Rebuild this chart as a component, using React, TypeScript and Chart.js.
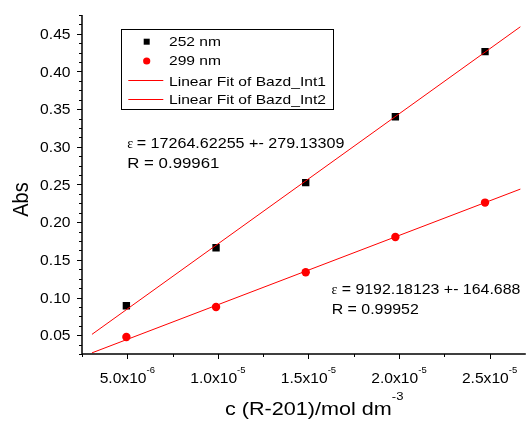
import React, { useEffect, useRef } from "react";
import { Chart, registerables } from "chart.js";

Chart.register(...registerables);

// ---------- data ----------
const concentrations = [4.95e-6, 9.9e-6, 1.485e-5, 1.98e-5, 2.475e-5];
const abs252 = [0.0891, 0.1661, 0.2524, 0.34, 0.4263];
const abs299 = [0.0476, 0.0874, 0.1335, 0.1803, 0.226];

const fitSlope252 = 17264.62255;
const fitIntercept252 = -0.0016;
const fitSlope299 = 9192.18123;
const fitIntercept299 = -0.00154;
const fitRange = [3.05e-6, 2.67e-5];

const seriesLabels = ["252 nm", "299 nm", "Linear Fit of Bazd_Int1", "Linear Fit of Bazd_Int2"];

const yTicks = [0.05, 0.1, 0.15, 0.2, 0.25, 0.3, 0.35, 0.4, 0.45];
const yTickLabels = ["0.05", "0.10", "0.15", "0.20", "0.25", "0.30", "0.35", "0.40", "0.45"];
const xTicks = [5e-6, 1e-5, 1.5e-5, 2e-5, 2.5e-5];
const xTickMantissas = ["5.0x10", "1.0x10", "1.5x10", "2.0x10", "2.5x10"];
const xTickExponents = ["-6", "-5", "-5", "-5", "-5"];
const xMinorTicks = [2.5e-6, 7.5e-6, 1.25e-5, 1.75e-5, 2.25e-5];
const yMinorStep = 0.0125;

const xTitleMain = "c (R-201)/mol dm";
const xTitleSup = "-3";
const yTitle = "Abs";

const fit1Lines = ["= 17264.62255 +- 279.13309", "R = 0.99961"];
const fit2Lines = ["= 9192.18123 +- 164.688", "R = 0.99952"];

// ---------- styling ----------
const SANS = '"Liberation Sans", Arial, sans-serif';
const SERIF = '"Liberation Serif", "Times New Roman", serif';
const RED = "#ff0000";

function drawText(
  ctx: CanvasRenderingContext2D,
  text: string,
  x: number,
  y: number,
  font: string,
  sx: number,
  align: "left" | "center" | "right" = "left"
) {
  ctx.save();
  ctx.font = font;
  ctx.textBaseline = "alphabetic";
  ctx.textAlign = align;
  ctx.translate(x, y);
  ctx.scale(sx, 1);
  ctx.fillStyle = "#000";
  ctx.fillText(text, 0, 0);
  ctx.restore();
}

// main text followed by a raised superscript, drawn in one transformed frame
function drawWithSup(
  ctx: CanvasRenderingContext2D,
  main: string,
  sup: string,
  anchorX: number,
  baseY: number,
  mainFont: string,
  supFont: string,
  supRise: number,
  sx: number,
  center: boolean
) {
  ctx.save();
  ctx.textBaseline = "alphabetic";
  ctx.textAlign = "left";
  ctx.fillStyle = "#000";
  ctx.font = mainFont;
  const wm = ctx.measureText(main).width;
  ctx.font = supFont;
  const ws = ctx.measureText(sup).width;
  const startX = center ? anchorX - ((wm + ws) * sx) / 2 : anchorX;
  ctx.translate(startX, baseY);
  ctx.scale(sx, 1);
  ctx.font = mainFont;
  ctx.fillText(main, 0, 0);
  ctx.font = supFont;
  ctx.fillText(sup, wm, -supRise);
  ctx.restore();
}

const decorPlugin = {
  id: "decor",
  afterDraw(chart: any) {
    const ctx: CanvasRenderingContext2D = chart.ctx;
    const { left, right, top, bottom } = chart.chartArea;
    const xs = chart.scales.x;
    const ys = chart.scales.y;

    ctx.save();
    // axes
    ctx.strokeStyle = "#000";
    ctx.lineWidth = 1.5;
    ctx.beginPath();
    ctx.moveTo(left, top);
    ctx.lineTo(left, bottom);
    ctx.lineTo(right, bottom);
    ctx.stroke();

    // y ticks
    ctx.lineWidth = 1;
    for (let v = ys.min; v <= ys.max + 1e-9; v += yMinorStep) {
      const py = Math.round(ys.getPixelForValue(v)) + 0.5;
      const isMajor = yTicks.some((t) => Math.abs(t - v) < 1e-6);
      ctx.beginPath();
      ctx.moveTo(left, py);
      ctx.lineTo(left - (isMajor ? 5 : 3), py);
      ctx.stroke();
    }
    const fTick = `14px ${SANS}`;
    const sxTick = 1.115;
    yTicks.forEach((v, i) => {
      const py = ys.getPixelForValue(v);
      drawText(ctx, yTickLabels[i], left - 11.5, py + 5, fTick, sxTick, "right");
    });

    // x ticks
    xTicks.forEach((v) => {
      const px = Math.round(xs.getPixelForValue(v)) + 0.5;
      ctx.beginPath();
      ctx.moveTo(px, bottom);
      ctx.lineTo(px, bottom + 5);
      ctx.stroke();
    });
    xMinorTicks.forEach((v) => {
      const px = Math.round(xs.getPixelForValue(v)) + 0.5;
      ctx.beginPath();
      ctx.moveTo(px, bottom);
      ctx.lineTo(px, bottom + 3);
      ctx.stroke();
    });
    xTicks.forEach((v, i) => {
      const px = xs.getPixelForValue(v);
      drawWithSup(ctx, xTickMantissas[i], xTickExponents[i], px, bottom + 28.7,
        fTick, `8.5px ${SANS}`, 9.9, sxTick, true);
    });

    // x axis title
    drawWithSup(ctx, xTitleMain, xTitleSup, 225, 415,
      `19px ${SANS}`, `11.5px ${SANS}`, 15.5, 1.137, false);

    // y axis title
    ctx.save();
    ctx.translate(20, 199.5);
    ctx.scale(1.12, 1);
    ctx.rotate(-Math.PI / 2);
    ctx.font = `20px ${SANS}`;
    ctx.textAlign = "center";
    ctx.textBaseline = "alphabetic";
    ctx.fillStyle = "#000";
    ctx.fillText(yTitle, 0, 7.2);
    ctx.restore();

    // annotations
    const fEps = `14px ${SERIF}`;
    const fAnn1 = `14.5px ${SANS}`;
    drawText(ctx, "\u03b5", 127.3, 148.3, fEps, 1);
    drawText(ctx, fit1Lines[0], 136.7, 148.3, fAnn1, 1.11);
    drawText(ctx, fit1Lines[1], 127.3, 167.7, fAnn1, 1.16);
    const fAnn2 = `14px ${SANS}`;
    const sxAnn2 = 1.136;
    drawText(ctx, "\u03b5", 331.5, 294.3, fEps, 1);
    drawText(ctx, fit2Lines[0], 341.7, 294.3, fAnn2, sxAnn2);
    drawText(ctx, fit2Lines[1], 331.7, 313.5, fAnn2, sxAnn2);

    // legend
    ctx.strokeStyle = "#000";
    ctx.lineWidth = 1;
    ctx.strokeRect(121.5, 29.5, 212, 80);
    const fLeg = `13.5px ${SANS}`;
    const sxLeg = 1.155;
    const rows = [46.4, 65.3, 85.5, 104.1];
    const ds = chart.data.datasets;
    ctx.fillStyle = ds[0].backgroundColor;
    ctx.fillRect(143.7, 38.7, 6, 6);
    ctx.fillStyle = ds[1].backgroundColor;
    ctx.beginPath();
    ctx.arc(146.7, 61, 3.6, 0, Math.PI * 2);
    ctx.fill();
    ctx.strokeStyle = ds[2].borderColor;
    ctx.beginPath();
    ctx.moveTo(128.3, 80.5);
    ctx.lineTo(163.3, 80.5);
    ctx.stroke();
    ctx.strokeStyle = ds[3].borderColor;
    ctx.beginPath();
    ctx.moveTo(128.3, 99.5);
    ctx.lineTo(163.3, 99.5);
    ctx.stroke();
    ds.forEach((d: any, i: number) => {
      drawText(ctx, d.label, 169, rows[i], fLeg, sxLeg);
    });

    ctx.restore();
  },
};

export default function App() {
  const canvasRef = useRef<HTMLCanvasElement | null>(null);

  useEffect(() => {
    const canvas = canvasRef.current;
    if (!canvas) return;
    const chart = new Chart(canvas, {
      type: "scatter",
      data: {
        datasets: [
          {
            label: seriesLabels[0],
            data: concentrations.map((x, i) => ({ x, y: abs252[i] })),
            pointStyle: "rect",
            pointRadius: 5.2,
            backgroundColor: "#000000",
            borderColor: "#000000",
            borderWidth: 0,
            order: 1,
          },
          {
            label: seriesLabels[1],
            data: concentrations.map((x, i) => ({ x, y: abs299[i] })),
            pointStyle: "circle",
            pointRadius: 4.2,
            backgroundColor: RED,
            borderColor: RED,
            borderWidth: 0,
            order: 1,
          },
          {
            label: seriesLabels[2],
            data: fitRange.map((x) => ({ x, y: fitSlope252 * x + fitIntercept252 })),
            showLine: true,
            borderColor: RED,
            backgroundColor: RED,
            borderWidth: 1,
            pointRadius: 0,
            fill: false,
            order: 0,
          },
          {
            label: seriesLabels[3],
            data: fitRange.map((x) => ({ x, y: fitSlope299 * x + fitIntercept299 })),
            showLine: true,
            borderColor: RED,
            backgroundColor: RED,
            borderWidth: 1,
            pointRadius: 0,
            fill: false,
            order: 0,
          },
        ] as any,
      },
      options: {
        responsive: false,
        animation: false,
        devicePixelRatio: 1,
        layout: { padding: { left: 82, top: 15, right: 3, bottom: 67 } },
        scales: {
          x: { type: "linear", min: 2.5e-6, max: 2.7e-5, display: false },
          y: { type: "linear", min: 0.025, max: 0.475, display: false },
        },
        plugins: {
          legend: { display: false },
          tooltip: { enabled: false },
        },
        events: [],
      },
      plugins: [decorPlugin],
    });
    return () => chart.destroy();
  }, []);

  return (
    <div style={{ position: "absolute", left: 0, top: 0, width: 531, height: 421, background: "#fff" }}>
      <canvas ref={canvasRef} width={531} height={421} style={{ display: "block" }} />
    </div>
  );
}
